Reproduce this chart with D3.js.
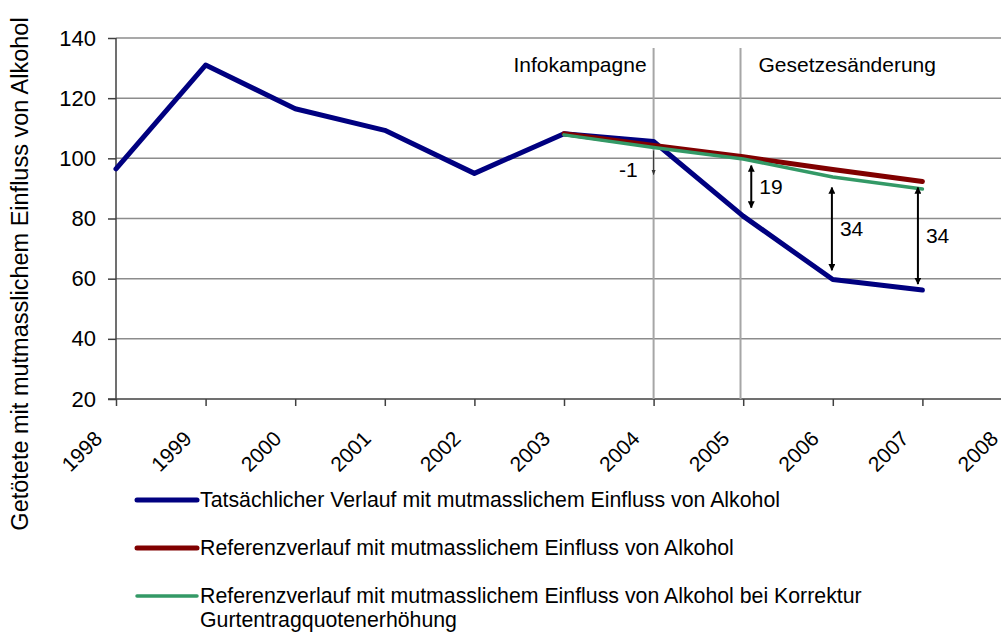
<!DOCTYPE html>
<html>
<head>
<meta charset="utf-8">
<script src="https://cdn.jsdelivr.net/npm/d3@7"></script>
<style>
  body { margin: 0; background: #fff; }
  text { font-family: "Liberation Sans", Arial, sans-serif; fill: #000; }
</style>
</head>
<body>
<svg id="chart" width="1001" height="637"></svg>
<script>
// chart data
const years = [1998, 1999, 2000, 2001, 2002, 2003, 2004, 2005, 2006, 2007];
const actual = [96.5, 131, 116.5, 109.3, 95, 108.2, 105.6, 80.8, 59.7, 56.2];
const refYears = [2003, 2004, 2005, 2006, 2007];
const reference = [108.2, 104.3, 100.5, 96.3, 92.3];
const corrected = [107.8, 103.6, 99.8, 93.8, 89.8];
const xTicks = [1998, 1999, 2000, 2001, 2002, 2003, 2004, 2005, 2006, 2007, 2008];
const yTicks = [20, 40, 60, 80, 100, 120, 140];

// event markers (year, label)
const events = [
  { x: 2004, label: "Infokampagne", side: "left" },
  { x: 2004.97, label: "Gesetzesänderung", side: "right" }
];
// difference arrows
const diffs = [
  { x: 2005.09, y1: 97.6, y2: 83.6, label: "19", both: true },
  { x: 2005.99, y1: 90.3, y2: 62.8, label: "34", both: true },
  { x: 2006.95, y1: 90.3, y2: 58.2, label: "34", both: true },
  { x: 2004, y1: 102.6, y2: 94.6, label: "-1", both: false }
];
const legendItems = [
  { name: ["Tatsächlicher Verlauf mit mutmasslichem Einfluss von Alkohol"], color: "#000080", w: 5 },
  { name: ["Referenzverlauf mit mutmasslichem Einfluss von Alkohol"], color: "#800000", w: 5 },
  { name: ["Referenzverlauf mit mutmasslichem Einfluss von Alkohol bei Korrektur", "Gurtentragquotenerhöhung"], color: "#339966", w: 3.5 }
];

const svg = d3.select("#chart");
const x = d3.scaleLinear().domain([1998, 2008]).range([116, 1012]);
const y = d3.scaleLinear().domain([20, 140]).range([399, 38]);

// gridlines
svg.append("g")
  .selectAll("line")
  .data(yTicks.slice(1))
  .enter()
  .append("line")
  .attr("x1", x(1998)).attr("x2", x(2008))
  .attr("y1", d => y(d)).attr("y2", d => y(d))
  .attr("stroke", "#8c8c8c").attr("stroke-width", 1.5);

// y axis
const yAxis = svg.append("g")
  .attr("transform", `translate(${x(1998)},0)`)
  .call(d3.axisLeft(y).tickValues(yTicks).tickSize(8).tickPadding(12));
yAxis.selectAll("text").style("font-size", "22px").attr("font-family", "Liberation Sans, Arial");
yAxis.selectAll("line, path").attr("stroke", "#404040").attr("stroke-width", 1.5);
yAxis.select(".domain").attr("d", `M0,${y(20)}V${y(140)}`);

// x axis
const xAxis = svg.append("g")
  .attr("transform", `translate(0,${y(20)})`)
  .call(d3.axisBottom(x).tickValues(xTicks).tickFormat(d3.format("d")).tickSize(7));
xAxis.selectAll("line, path").attr("stroke", "#404040").attr("stroke-width", 1.5);
xAxis.select(".domain").attr("d", `M${x(1998) - 8},0H${x(2008)}`);
xAxis.selectAll("text")
  .style("font-size", "21px")
  .attr("font-family", "Liberation Sans, Arial")
  .attr("text-anchor", "end")
  .attr("dy", null).attr("y", 0)
  .attr("transform", "translate(-13,41) rotate(-45)");

// event lines and labels
events.forEach(e => {
  svg.append("line")
    .attr("x1", x(e.x)).attr("x2", x(e.x))
    .attr("y1", 48).attr("y2", y(20))
    .attr("stroke", "#a6a6a6").attr("stroke-width", 2);
  svg.append("text")
    .attr("x", e.side === "left" ? x(e.x) - 7 : x(e.x) + 18)
    .attr("y", 72)
    .attr("text-anchor", e.side === "left" ? "end" : "start")
    .style("font-size", "21px")
    .text(e.label);
});

// series lines
const line = d3.line().x(d => x(d[0])).y(d => y(d[1]));
function drawSeries(xs, ys, color, w) {
  svg.append("path")
    .datum(xs.map((v, i) => [v, ys[i]]))
    .attr("d", line)
    .attr("fill", "none")
    .attr("stroke", color)
    .attr("stroke-width", w)
    .attr("stroke-linejoin", "round")
    .attr("stroke-linecap", "round");
}
drawSeries(years, actual, "#000080", 5);
drawSeries(refYears, reference, "#800000", 5);
drawSeries(refYears, corrected, "#339966", 3.5);

// arrow markers
const defs = svg.append("defs");
defs.append("marker")
  .attr("id", "ah").attr("viewBox", "0 0 10 10")
  .attr("refX", 9).attr("refY", 5)
  .attr("markerWidth", 3.5).attr("markerHeight", 3.5)
  .attr("orient", "auto-start-reverse")
  .append("path").attr("d", "M0,0L10,5L0,10Z").attr("fill", "#000");
defs.append("marker")
  .attr("id", "ahs").attr("viewBox", "0 0 10 10")
  .attr("refX", 9).attr("refY", 5)
  .attr("markerWidth", 5).attr("markerHeight", 5)
  .attr("orient", "auto")
  .append("path").attr("d", "M0,1L10,5L0,9Z").attr("fill", "#333");

diffs.forEach(d => {
  const a = svg.append("line")
    .attr("x1", x(d.x)).attr("x2", x(d.x))
    .attr("y1", y(d.y1)).attr("y2", y(d.y2))
    .attr("stroke", d.both ? "#000" : "#333")
    .attr("stroke-width", d.both ? 2 : 1)
    .attr("marker-end", d.both ? "url(#ah)" : "url(#ahs)");
  if (d.both) a.attr("marker-start", "url(#ah)");
  svg.append("text")
    .attr("x", d.both ? x(d.x) + 8 : x(d.x) - 16)
    .attr("y", d.both ? (y(d.y1) + y(d.y2)) / 2 + 7 : y(d.y2) + 2)
    .attr("text-anchor", d.both ? "start" : "end")
    .style("font-size", "21px")
    .text(d.label);
});

// y axis title
svg.append("text")
  .attr("transform", "translate(28,274) rotate(-90)")
  .attr("text-anchor", "middle")
  .style("font-size", "23.5px")
  .text("Getötete mit mutmasslichem Einfluss von Alkohol");

// legend
const leg = svg.append("g").selectAll("g")
  .data(legendItems)
  .enter()
  .append("g")
  .attr("transform", (d, i) => `translate(137,${500 + i * 48})`);
leg.append("line")
  .attr("x1", 0).attr("x2", 60)
  .attr("stroke", d => d.color)
  .attr("stroke-width", d => d.w)
  .attr("stroke-linecap", "round");
leg.append("text")
  .attr("y", 7)
  .style("font-size", "21.3px")
  .selectAll("tspan")
  .data(d => d.name)
  .enter()
  .append("tspan")
  .attr("x", 63)
  .attr("dy", (d, i) => (i === 0 ? 0 : 24))
  .text(d => d);
</script>
</body>
</html>
